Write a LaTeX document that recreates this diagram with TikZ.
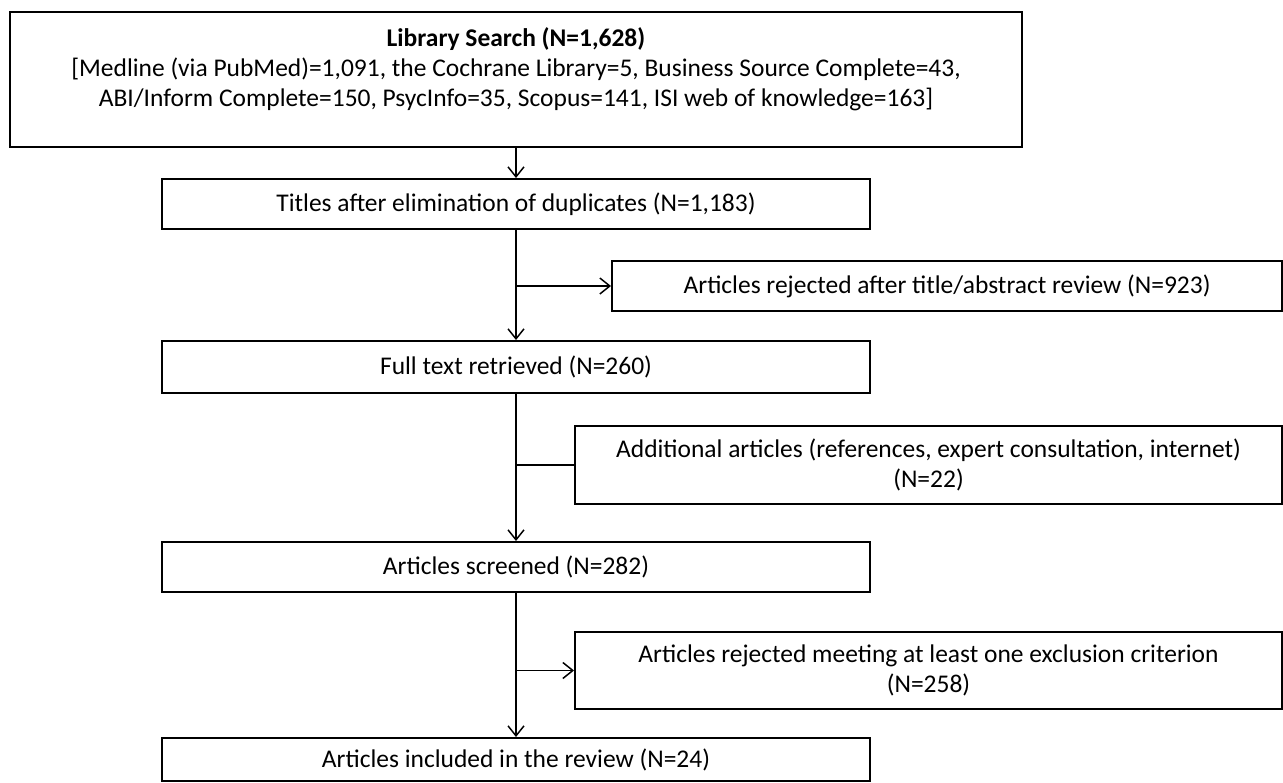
\documentclass[tikz,border=0pt]{standalone}
\usepackage{fontspec}
\setmainfont{Carlito}
\usetikzlibrary{arrows.meta}

\begin{document}
\begin{tikzpicture}[
    font=\fontsize{14.5}{17}\selectfont,
    box/.style={draw, line width=1.1pt, align=center, inner sep=0pt},
    link/.style={line width=0.85pt},
    arr/.style={link, -{Straight Barb[length=2mm, width=3.2mm, line width=0.85pt]}}
  ]
    \useasboundingbox (0,0) rectangle (25.66,-15.64);

        % Draw the boxes of the main column
    \node[box, minimum width=20.24cm, minimum height=2.7cm] (lib) at (10.32,-1.59)
      {\textbf{Library Search (N=1,628)}\\
       {[}Medline (via PubMed)=1,091, the Cochrane Library=5, Business Source Complete=43,\\
       ABI/Inform Complete=150, PsycInfo=35, Scopus=141, ISI web of knowledge=163]\\[-8pt]\strut};
    \node[box, minimum width=14.16cm, minimum height=1.0cm] (titles) at (10.32,-4.08)
      {Titles after elimination of duplicates (N=1,183)};
    \node[box, minimum width=14.16cm, minimum height=1.04cm] (full) at (10.32,-7.34)
      {Full text retrieved (N=260)};
    \node[box, minimum width=14.16cm, minimum height=1.0cm] (screened) at (10.32,-11.34)
      {Articles screened (N=282)};
    \node[box, minimum width=14.16cm, minimum height=0.86cm] (included) at (10.32,-15.19)
      {Articles included in the review (N=24)};

        % Draw the boxes on the side
    \node[box, minimum width=13.4cm, minimum height=1.0cm] (rejected) at (18.94,-5.72)
      {Articles rejected after title/abstract review (N=923)};
    \node[box, minimum width=14.14cm, minimum height=1.56cm] (additional) at (18.57,-9.30)
      {Additional articles (references, expert consultation, internet)\\(N=22)};
    \node[box, minimum width=14.14cm, minimum height=1.54cm] (excluded) at (18.57,-13.41)
      {Articles rejected meeting at least one exclusion criterion\\(N=258)};

        % Draw the arrows
    \draw[arr] (lib) -- (titles);
    \draw[arr] (titles) -- (full);
    \draw[arr] (full) -- (screened);
    \draw[arr] (screened) -- (included);

        % Branches to the side boxes
    \draw[arr] (titles.south |- rejected.west) -- (rejected.west);
    \draw[link] (full.south |- additional.west) -- (additional.west);
    \draw[arr] (screened.south |- excluded.west) -- (excluded.west);
  \end{tikzpicture}
\end{document}
